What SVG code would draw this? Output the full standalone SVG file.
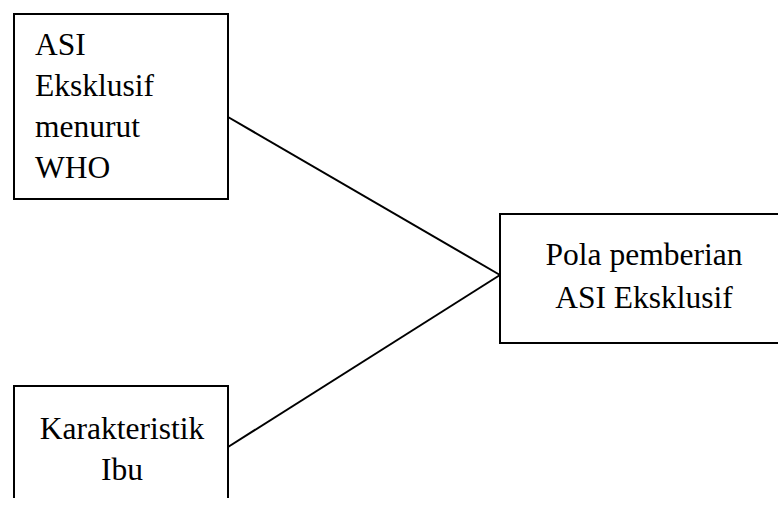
<svg xmlns="http://www.w3.org/2000/svg" width="778" height="507" viewBox="0 0 778 507">
<style>
.box{fill:#fff;stroke:#000;stroke-width:2}
.t{font-family:"Liberation Serif","Times New Roman",serif;font-size:31.5px;fill:#000}
.c{text-anchor:middle}
.ln{stroke:#000;stroke-width:2;fill:none}
</style>
<rect width="778" height="507" fill="#fff"/>
<g id="connectors">
<line class="ln" x1="228" y1="117" x2="500" y2="275"/>
<line class="ln" x1="228" y1="447" x2="500" y2="275"/>
</g>
<g id="node-who">
<rect class="box" x="14" y="14" width="214" height="185"/>
<text class="t" x="35" y="55">ASI</text>
<text class="t" x="35" y="96">Eksklusif</text>
<text class="t" x="35" y="137">menurut</text>
<text class="t" x="35" y="178">WHO</text>
</g>
<g id="node-pola">
<rect class="box" x="500" y="214" width="290" height="129"/>
<text class="t c" x="644" y="265">Pola pemberian</text>
<text class="t c" x="644" y="308">ASI Eksklusif</text>
</g>
<g id="node-ibu">
<path class="box" d="M14,498 V386 H228 V498"/>
<text class="t c" x="122" y="439">Karakteristik</text>
<text class="t c" x="122" y="480">Ibu</text>
</g>
</svg>
